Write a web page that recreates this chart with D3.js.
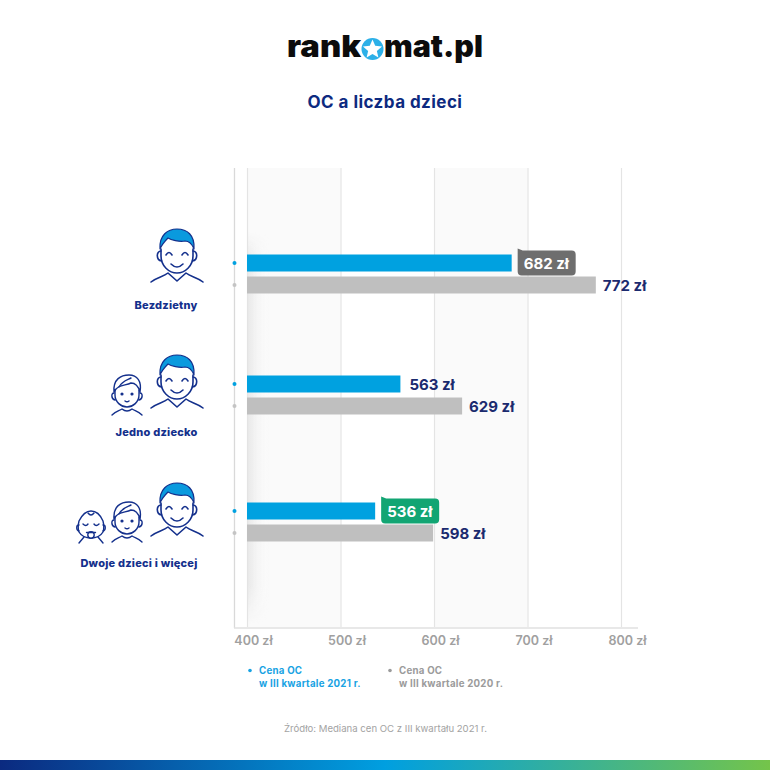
<!DOCTYPE html>
<html>
<head>
<meta charset="utf-8">
<script src="https://cdn.jsdelivr.net/npm/d3@7"></script>
<style>
  html, body { margin: 0; padding: 0; background: #fff; }
  svg { display: block; font-family: Inter, "Noto Sans", sans-serif; }
</style>
</head>
<body>
<svg id="chart" width="770" height="770" viewBox="0 0 770 770"></svg>
<script>
// Chart data
const categories = ['Bezdzietny', 'Jedno dziecko', 'Dwoje dzieci i więcej'];
const values2021 = [682, 563, 536];
const values2020 = [772, 629, 598];
const xTicks = [400, 500, 600, 700, 800];
const legendLabels = [
    ['Cena OC', 'w III kwartale 2021 r.'],
    ['Cena OC', 'w III kwartale 2020 r.']
];
const calloutColors = ['#6e6e6e', null, '#12a573'];

const NAVY = '#1b2a6e';
const ICON = '#14308c';
const BLUE = '#00a1e0';
const GREY = '#bfbfbf';

const svg = d3.select('#chart');
const defs = svg.append('defs');

// Soft shadow on the left side of the plot, fading out at both ends
const shade = defs.append('linearGradient').attr('id', 'left-shade');
shade.append('stop').attr('offset', '0%').attr('stop-color', '#e6e6e6');
shade.append('stop').attr('offset', '100%').attr('stop-color', '#ffffff').attr('stop-opacity', 0);

const shadeFade = defs.append('linearGradient').attr('id', 'shade-fade')
    .attr('x1', 0).attr('x2', 0).attr('y1', 0).attr('y2', 1);
shadeFade.append('stop').attr('offset', '0%').attr('stop-color', '#000');
shadeFade.append('stop').attr('offset', '8%').attr('stop-color', '#fff');
shadeFade.append('stop').attr('offset', '90%').attr('stop-color', '#fff');
shadeFade.append('stop').attr('offset', '100%').attr('stop-color', '#000');
defs.append('mask').attr('id', 'shade-mask')
    .attr('maskContentUnits', 'objectBoundingBox')
    .append('rect').attr('width', 1).attr('height', 1).attr('fill', 'url(#shade-fade)');

const footerGrad = defs.append('linearGradient').attr('id', 'footer-grad');
footerGrad.append('stop').attr('offset', '0%').attr('stop-color', '#0b2a80');
footerGrad.append('stop').attr('offset', '50%').attr('stop-color', '#009fe0');
footerGrad.append('stop').attr('offset', '100%').attr('stop-color', '#74c44a');

// Scales
const plotTop = 168, plotBottom = 628;
const x = d3.scaleLinear().domain([400, 800]).range([247, 621]);
const y = d3.scaleOrdinal().domain(categories).range([274, 395, 522]);
const barHeight = 17;
const barGap = 5;

// Logo
const logo = svg.append('g').attr('font-weight', 900).attr('fill', '#0c0c0c')
    .attr('font-size', 30);
logo.append('text').attr('x', 287).attr('y', 57)
    .attr('textLength', 74).attr('lengthAdjust', 'spacingAndGlyphs').text('rank');
logo.append('text').attr('x', 384).attr('y', 57)
    .attr('textLength', 99).attr('lengthAdjust', 'spacingAndGlyphs').text('mat.pl');
logo.append('circle').attr('cx', 372.5).attr('cy', 49).attr('r', 11).attr('fill', '#2cb0e8');
const star = d3.range(10).map(i => {
    const r = i % 2 ? 4.6 : 10;
    const a = i * Math.PI / 5 - Math.PI / 2;
    return [372.5 + r * Math.cos(a), 49.5 + r * Math.sin(a)];
});
logo.append('path').attr('d', d3.line().curve(d3.curveLinearClosed)(star)).attr('fill', '#fff');

// Title
svg.append('text')
    .attr('x', 385).attr('y', 107.5)
    .attr('text-anchor', 'middle')
    .attr('font-size', 17).attr('font-weight', 700).attr('fill', '#0d2a80')
    .attr('letter-spacing', 0.45)
    .text('OC a liczba dzieci');

// Alternating bands
svg.selectAll('.band')
    .data([[400, 500], [600, 700]])
    .enter().append('rect')
    .attr('x', d => x(d[0])).attr('width', d => x(d[1]) - x(d[0]))
    .attr('y', plotTop).attr('height', plotBottom - plotTop - 1)
    .attr('fill', '#fafafa');

svg.append('rect')
    .attr('x', x(400)).attr('width', 24)
    .attr('y', 232).attr('height', 392)
    .attr('fill', 'url(#left-shade)')
    .attr('mask', 'url(#shade-mask)');

// Grid lines and axis
const xAxis = d3.axisBottom(x)
    .tickValues(xTicks)
    .tickSize(plotBottom - plotTop - 1)
    .tickFormat(d => d + ' zł');

const axisG = svg.append('g')
    .attr('transform', `translate(0,${plotTop})`)
    .call(xAxis);
axisG.select('.domain').remove();
axisG.selectAll('.tick line').attr('stroke', '#e4e4e4').attr('stroke-width', 1.2);
axisG.selectAll('.tick text')
    .attr('x', 6).attr('y', plotBottom - plotTop + 8)
    .attr('font-family', 'Inter, sans-serif')
    .attr('font-size', 12.5).attr('font-weight', 600).attr('fill', '#a0a0a0');

svg.append('line').attr('x1', 234.5).attr('x2', 234.5).attr('y1', plotTop).attr('y2', plotBottom)
    .attr('stroke', '#d9d9d9').attr('stroke-width', 1.3);
svg.append('line').attr('x1', 234).attr('x2', 638).attr('y1', plotBottom).attr('y2', plotBottom)
    .attr('stroke', '#e0e0e0').attr('stroke-width', 1.3);

// Bars, axis dots and value labels
const rows = categories.map((c, i) => ({
    name: c, v21: values2021[i], v20: values2020[i], callout: calloutColors[i]
}));

const row = svg.selectAll('.row').data(rows).enter().append('g').attr('class', 'row');

const y21 = d => y(d.name) - barGap / 2 - barHeight;
const y20 = d => y(d.name) + barGap / 2;

row.append('rect').attr('x', x(400)).attr('y', y21).attr('height', barHeight)
    .attr('width', d => x(d.v21) - x(400) + 1).attr('fill', BLUE);
row.append('rect').attr('x', x(400)).attr('y', y20).attr('height', barHeight)
    .attr('width', d => x(d.v20) - x(400) + 1).attr('fill', GREY);

row.append('circle').attr('cx', 234.5).attr('cy', d => y21(d) + barHeight / 2).attr('r', 2).attr('fill', BLUE);
row.append('circle').attr('cx', 234.5).attr('cy', d => y20(d) + barHeight / 2).attr('r', 2).attr('fill', '#c4c4c4');

// Callout shape behind highlighted labels
row.filter(d => d.callout).append('path')
    .attr('fill', d => d.callout)
    .attr('d', d => {
        const l = x(d.v21) + 7, t = y21(d) - 4, w = 58, h = 25, r = 4;
        return `M${l},${t - 2} L${l + 5},${t} H${l + w - r} Q${l + w},${t} ${l + w},${t + r}` +
            ` V${t + h - r} Q${l + w},${t + h} ${l + w - r},${t + h} H${l + r} Q${l},${t + h} ${l},${t + h - r} Z`;
    });

row.append('text')
    .attr('x', d => x(d.v21) + (d.callout ? 13 : 10))
    .attr('y', d => y21(d) + barHeight / 2 + 5.5)
    .attr('font-size', 15).attr('font-weight', 700)
    .attr('fill', d => d.callout ? '#fff' : NAVY)
    .text(d => d.v21 + ' zł');

row.append('text')
    .attr('x', d => x(d.v20) + 8)
    .attr('y', d => y20(d) + barHeight / 2 + 5.5)
    .attr('font-size', 15).attr('font-weight', 700).attr('fill', NAVY)
    .text(d => d.v20 + ' zł');

// Category labels
svg.selectAll('.cat').data(categories).enter().append('text')
    .attr('x', 197.5)
    .attr('y', (d, i) => y(d) + [35, 41, 45][i])
    .attr('text-anchor', 'end')
    .attr('font-size', 11).attr('font-weight', 800).attr('fill', '#14308c')
    .attr('letter-spacing', 0.22)
    .text(d => d);

// Icons (decorative, placed by hand)
function drawMan(px, py) {
    const g = svg.append('g').attr('transform', `translate(${px},${py})`)
        .attr('fill', 'none').attr('stroke', ICON).attr('stroke-width', 1.6)
        .attr('stroke-linecap', 'round').attr('stroke-linejoin', 'round');
    g.append('path').attr('fill', '#0a9ade').attr('stroke-width', 1.2)
        .attr('d', 'M-17,20 C-18,6 -9,0 0,0 C10,0 18,6 17,20 C15,15 12,12 8,12 C2,13 -6,11 -9,9 C-12,12 -15,15 -17,20 Z');
    g.append('path').attr('d', 'M-16,20 V27 C-16,37 -8,44 0,44 C8,44 16,37 16,27 V20');
    g.append('path').attr('d', 'M-16,22 C-21,22 -21,31 -15.5,32');
    g.append('path').attr('d', 'M16,22 C21,22 21,31 15.5,32');
    g.append('path').attr('d', 'M-11,26 Q-8,21 -5,26');
    g.append('path').attr('d', 'M5,26 Q8,21 11,26');
    g.append('path').attr('d', 'M-6,35 Q0,41 6,35');
    g.append('path').attr('d', 'M-26,53 C-20,48 -14,48 -9,44 L0,52 L9,44 C14,48 20,48 26,53');
}

function drawChild(px, py) {
    const g = svg.append('g').attr('transform', `translate(${px},${py})`)
        .attr('fill', 'none').attr('stroke', ICON).attr('stroke-width', 1.4)
        .attr('stroke-linecap', 'round').attr('stroke-linejoin', 'round');
    g.append('path').attr('d', 'M-12,15 V20 C-12,27 -6,32 0,32 C6,32 12,27 12,20 V15');
    g.append('path').attr('d', 'M-13,17 C-14,4 -6,0 2,0 C10,0 15,6 13,17 C11,10 8,8 4,8 C-2,11 -9,9 -13,17 Z');
    g.append('path').attr('d', 'M-8,12 C-5,6 0,5 4,3');
    g.append('path').attr('d', 'M-13,18 C-16,18 -16,24 -12,25');
    g.append('path').attr('d', 'M13,18 C16,18 16,24 12,25');
    g.append('circle').attr('cx', -5).attr('cy', 19).attr('r', 0.9).attr('fill', ICON);
    g.append('circle').attr('cx', 5).attr('cy', 19).attr('r', 0.9).attr('fill', ICON);
    g.append('path').attr('d', 'M-2,26 Q0,27.5 2,26');
    g.append('path').attr('d', 'M-15,40 C-11,36 -8,36 -5,34 Q0,38 5,34 C8,36 11,36 15,40');
}

function drawBaby(px, py) {
    const g = svg.append('g').attr('transform', `translate(${px},${py})`)
        .attr('fill', 'none').attr('stroke', ICON).attr('stroke-width', 1.4)
        .attr('stroke-linecap', 'round').attr('stroke-linejoin', 'round');
    g.append('path').attr('d', 'M-12,10 C-8,2 -4,0 0,0 C5,0 9,3 12,10 C13,14 13,18 12,21 C9,26 5,27 0,27 C-5,27 -9,26 -12,21 C-13,18 -13,14 -12,10 Z');
    g.append('path').attr('d', 'M-3,2 Q0,6 3,2');
    g.append('path').attr('d', 'M-12,14 C-15,14 -15,19 -12,20');
    g.append('path').attr('d', 'M12,14 C15,14 15,19 12,20');
    g.append('path').attr('d', 'M-8,13 Q-5,16 -3,13');
    g.append('path').attr('d', 'M3,13 Q5,16 8,13');
    g.append('circle').attr('cx', 0).attr('cy', 24).attr('r', 3.2).attr('fill', '#fff');
    g.append('path').attr('d', 'M-4.5,21.5 H4.5');
    g.append('path').attr('d', 'M-12,32 L-7,26');
    g.append('path').attr('d', 'M12,32 L7,26');
}

drawMan(177, 229);
drawMan(177, 355);
drawMan(177, 483);
drawChild(127, 375);
drawChild(127, 502);
drawBaby(91, 511);

// Legend
const legend = svg.selectAll('.legend').data(legendLabels).enter().append('g')
    .attr('transform', (d, i) => `translate(${[259, 399][i]},674)`);
legend.append('circle').attr('cx', -9).attr('cy', -3.5).attr('r', 1.8)
    .attr('fill', (d, i) => i ? '#9b9b9b' : '#19a3e3');
legend.selectAll('text').data((d, i) => d.map(t => ({ t, i }))).enter().append('text')
    .attr('y', (d, j) => j * 12.5)
    .attr('font-size', 9.7).attr('font-weight', 700)
    .attr('letter-spacing', 0.25)
    .attr('fill', d => d.i ? '#9b9b9b' : '#19a3e3')
    .text(d => d.t);

// Source
svg.append('text')
    .attr('x', 385.5).attr('y', 732)
    .attr('text-anchor', 'middle')
    .attr('font-size', 9.6).attr('fill', '#a3a3a3')
    .text('Źródło: Mediana cen OC z III kwartału 2021 r.');

// Footer strip
svg.append('rect').attr('x', 0).attr('y', 760).attr('width', 770).attr('height', 10)
    .attr('fill', 'url(#footer-grad)');
</script>
</body>
</html>
